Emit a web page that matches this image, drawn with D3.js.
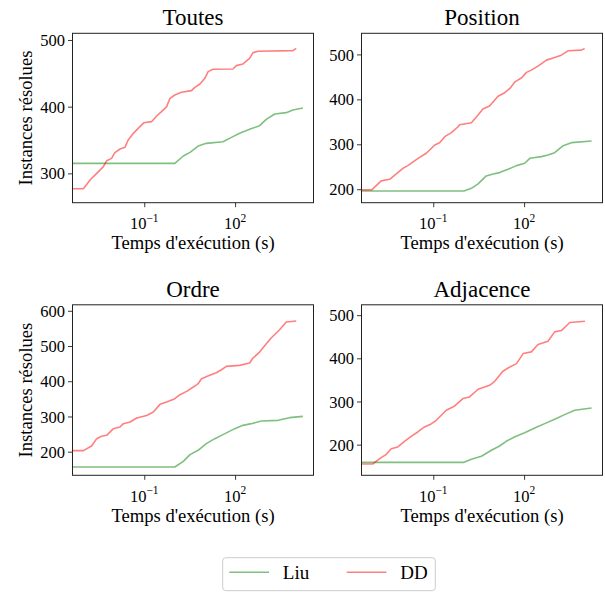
<!DOCTYPE html>
<html><head><meta charset="utf-8">
<script src="https://cdn.jsdelivr.net/npm/d3@7"></script>
<style>
body{margin:0;background:#fff}
svg text{font-family:"Liberation Serif","Times New Roman",serif;fill:#000}
</style>
</head><body>
<svg id="chart" width="605" height="593"></svg>
<script>
// ---- data (log10 of time in seconds; null = time 0, drawn from the left edge) ----
const panelTitles = ["Toutes", "Position", "Ordre", "Adjacence"];
const seriesNames = ["Liu", "DD"];
const seriesColors = ["rgba(0,128,0,0.5)", "rgba(255,0,0,0.5)"];

const liuToutesLogT = [null, 0.01, 0.29, 0.51, 0.78, 1.05, 1.60, 1.88, 2.15, 2.48, 2.81, 3.03, 3.31, 3.69, 3.91, 4.24];
const liuToutesY    = [315, 315, 326, 331.5, 341, 345, 347.5, 354, 360, 366, 371.5, 381, 389, 391, 395, 398];
const ddToutesLogT  = [null, -3.01, -2.79, -2.57, -2.35, -2.24, -2.08, -1.97, -1.80, -1.64, -1.53, -1.36, -1.20, -1.01, -0.76, -0.59, -0.43, -0.26, -0.15, 0.01, 0.23, 0.56, 0.67, 0.84, 1.00, 1.11, 1.27, 1.93, 2.04, 2.26, 2.48, 2.59, 2.76, 3.91, 4.02];
const ddToutesY     = [277, 277, 290, 300, 310, 319, 322.5, 331, 336.5, 339, 350, 360, 367.5, 376, 377.5, 386, 392.5, 400, 412.5, 417.5, 421.5, 424, 429, 434, 442.5, 452.5, 456, 456.5, 461.5, 464, 472.5, 481, 483, 484, 487.5];

const liuPositionLogT = [null, 0.015, 0.26, 0.48, 0.75, 0.98, 1.19, 1.47, 1.75, 2.02, 2.19, 2.57, 2.79, 3.01, 3.29, 3.56, 4.23];
const liuPositionY    = [196.2, 196.2, 202, 211.8, 229.6, 234, 237, 244.4, 252.5, 257.7, 268.8, 272.5, 276.2, 281.4, 297, 303.6, 307.3];
const ddPositionLogT  = [null, -3.03, -2.72, -2.44, -2.17, -2.00, -1.84, -1.62, -1.45, -1.23, -1.12, -0.95, -0.79, -0.62, -0.40, -0.18, -0.13, 0.26, 0.48, 0.64, 0.86, 0.98, 1.14, 1.36, 1.53, 1.70, 1.92, 2.08, 2.24, 2.46, 2.74, 3.01, 3.23, 3.45, 3.89, 4.00];
const ddPositionY     = [198.5, 198.5, 218.5, 222, 237, 246.6, 252.5, 263, 271, 280, 287.3, 298.5, 303.6, 317, 326, 339, 343.6, 348, 365, 378.5, 385, 394.7, 407, 414.8, 424.4, 439, 448, 460, 465, 474, 487.3, 493.3, 498.4, 508, 509.6, 513];

const liuOrdreLogT = [null, 0.01, 0.29, 0.51, 0.78, 1.05, 1.33, 1.60, 1.99, 2.26, 2.54, 2.87, 3.42, 3.80, 4.24];
const liuOrdreY    = [156.6, 156.6, 172.7, 191.6, 203.9, 222.8, 237, 248.4, 265.4, 274.8, 279.6, 287.1, 289, 296.6, 300.4];
const ddOrdreLogT  = [null, -3.01, -2.74, -2.57, -2.41, -2.24, -2.02, -1.80, -1.69, -1.47, -1.25, -0.92, -0.70, -0.48, -0.26, 0.01, 0.18, 0.40, 0.67, 0.78, 0.89, 1.16, 1.38, 1.55, 1.71, 2.15, 2.48, 2.59, 2.81, 3.03, 3.20, 3.47, 3.69, 4.02];
const ddOrdreY     = [203, 203, 216, 237, 243.6, 246.5, 265.4, 270, 279.6, 284.3, 295.6, 303, 312.7, 334.4, 341, 350.5, 361.8, 371.3, 386.4, 393, 407.2, 416.7, 424.2, 432.7, 442.2, 445, 451.7, 465.8, 482.9, 506.5, 523.5, 546.2, 568, 570.8];

const liuAdjacenceLogT = [null, 0.015, 0.26, 0.59, 0.92, 1.19, 1.41, 1.68, 2.02, 2.35, 2.68, 3.01, 3.34, 3.67, 4.23];
const liuAdjacenceY    = [159, 159, 166, 173, 186.9, 196.9, 207.7, 217.8, 227.8, 238.6, 248.7, 258.7, 269.6, 279.6, 285];
const ddAdjacenceLogT  = [null, -3.0, -2.77, -2.55, -2.39, -2.17, -1.95, -1.73, -1.51, -1.29, -1.07, -0.90, -0.57, -0.29, -0.02, 0.20, 0.48, 0.86, 1.03, 1.30, 1.53, 1.75, 1.97, 2.24, 2.46, 2.79, 3.01, 3.23, 3.51, 4.01];
const ddAdjacenceY     = [155.2, 155.2, 167.5, 177.6, 190.7, 194.6, 207.7, 219.3, 229.4, 241, 248, 256.4, 279.6, 289.7, 306.7, 310.5, 328.3, 337.6, 346.8, 370, 380, 387.8, 411, 414.9, 431.9, 439.6, 461.2, 464.3, 482.9, 486];

const xTickExponents = [-1, 2];
const xLimitsLog = [-3.37, 4.59];
const yLimits = [[256, 510], [170, 547], [133, 617], [129, 524]];
const yTicks = [[300, 400, 500], [200, 300, 400, 500], [200, 300, 400, 500, 600], [200, 300, 400, 500]];
const xLabel = "Temps d'exécution (s)";
const yLabel = "Instances résolues";

const panelData = [
  [[liuToutesLogT, liuToutesY], [ddToutesLogT, ddToutesY]],
  [[liuPositionLogT, liuPositionY], [ddPositionLogT, ddPositionY]],
  [[liuOrdreLogT, liuOrdreY], [ddOrdreLogT, ddOrdreY]],
  [[liuAdjacenceLogT, liuAdjacenceY], [ddAdjacenceLogT, ddAdjacenceY]]
];

// ---- layout ----
const boxes = [
  {x0: 72.5, x1: 313.5, y0: 33.3, y1: 202.7},
  {x0: 361.5, x1: 602.5, y0: 33.3, y1: 202.7},
  {x0: 72.5, x1: 313.5, y0: 304.8, y1: 475.3},
  {x0: 361.5, x1: 602.5, y0: 304.8, y1: 475.3}
];

const svg = d3.select("#chart");
const axisColor = "#222";

panelTitles.forEach((title, i) => {
  const b = boxes[i];
  const x = d3.scaleLog().domain(xLimitsLog.map(v => Math.pow(10, v))).range([b.x0, b.x1]);
  const y = d3.scaleLinear().domain(yLimits[i]).range([b.y1, b.y0]);
  const g = svg.append("g");

  // clip
  const clipId = "clip" + i;
  svg.append("clipPath").attr("id", clipId).append("rect")
    .attr("x", b.x0).attr("y", b.y0).attr("width", b.x1 - b.x0).attr("height", b.y1 - b.y0);

  // lines
  const line = d3.line()
    .x(d => d[0] === null ? x.range()[0] : x(Math.pow(10, d[0])))
    .y(d => y(d[1]));
  panelData[i].forEach((s, k) => {
    const pts = s[0].map((t, j) => [t, s[1][j]]);
    g.append("path").datum(pts)
      .attr("clip-path", `url(#${clipId})`)
      .attr("fill", "none")
      .attr("stroke", seriesColors[k])
      .attr("stroke-width", 1.6)
      .attr("stroke-linejoin", "round")
      .attr("d", line);
  });

  // y axis
  const yAxis = d3.axisLeft(y).tickValues(yTicks[i]).tickSize(4.5).tickPadding(3).tickFormat(d3.format("d"));
  const ya = g.append("g").attr("transform", `translate(${b.x0},0)`).call(yAxis);
  ya.select(".domain").remove();
  ya.selectAll("line").attr("stroke", axisColor).attr("stroke-width", 0.9);
  ya.selectAll("text").attr("font-size", 16.5).attr("font-family", "Liberation Serif").attr("fill", "#000").attr("dy", "0.34em");

  // x axis
  const xAxis = d3.axisBottom(x).tickValues(xTickExponents.map(e => Math.pow(10, e))).tickSize(4.5).tickFormat("");
  const xa = g.append("g").attr("transform", `translate(0,${b.y1})`).call(xAxis);
  xa.select(".domain").remove();
  xa.selectAll("line").attr("stroke", axisColor).attr("stroke-width", 0.9);
  xTickExponents.forEach(e => {
    const t = g.append("text")
      .attr("x", x(Math.pow(10, e))).attr("y", b.y1 + 26.5)
      .attr("text-anchor", "middle").attr("font-size", 16.5);
    t.append("tspan").text("10");
    t.append("tspan").attr("font-size", 11.5).attr("dy", -7.5).text(e < 0 ? "\u2212" + (-e) : String(e));
  });

  // frame
  g.append("rect").attr("x", b.x0).attr("y", b.y0).attr("width", b.x1 - b.x0).attr("height", b.y1 - b.y0)
    .attr("fill", "none").attr("stroke", axisColor).attr("stroke-width", 1);

  // title
  g.append("text").attr("x", (b.x0 + b.x1) / 2).attr("y", b.y0 - 8)
    .attr("text-anchor", "middle").attr("font-size", 23).text(title);

  // x label
  g.append("text").attr("x", (b.x0 + b.x1) / 2).attr("y", b.y1 + 46.5)
    .attr("text-anchor", "middle").attr("font-size", 18.6).text(xLabel);

  // y label (left column)
  if (i % 2 === 0) {
    g.append("text")
      .attr("transform", `translate(31.5,${(b.y0 + b.y1) / 2}) rotate(-90)`)
      .attr("text-anchor", "middle").attr("font-size", 18.6).text(yLabel);
  }
});

// ---- legend ----
const lg = svg.append("g");
lg.append("rect").attr("x", 222.7).attr("y", 557.7).attr("width", 212.6).attr("height", 33)
  .attr("rx", 3).attr("fill", "#fff").attr("stroke", "#ccc").attr("stroke-width", 1);
const legendX = [229.3, 346.7];
seriesNames.forEach((name, k) => {
  lg.append("line").attr("x1", legendX[k]).attr("x2", legendX[k] + 39.7)
    .attr("y1", 572.3).attr("y2", 572.3)
    .attr("stroke", seriesColors[k]).attr("stroke-width", 1.6);
  lg.append("text").attr("x", legendX[k] + 53.5).attr("y", 578.5)
    .attr("font-size", 19).text(name);
});
</script>
</body></html>
